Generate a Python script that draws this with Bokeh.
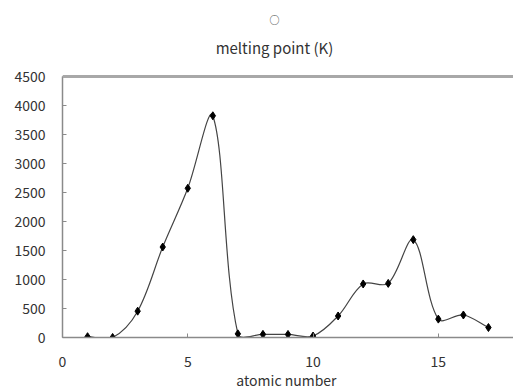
from bokeh.plotting import figure
from bokeh.models import Range1d, FixedTicker, Label, Span
from bokeh.embed import file_html
from bokeh.resources import INLINE

# ---- data ----
atomic_number = [1, 2, 3, 4, 5, 6, 7, 8, 9, 10, 11, 12, 13, 14, 15, 16, 17]
melting_point = [14, 1, 454, 1560, 2573, 3823, 63, 54, 53, 25, 371, 923, 933, 1687, 317, 388, 172]
x_ticks = [0, 5, 10, 15]
y_ticks = [0, 500, 1000, 1500, 2000, 2500, 3000, 3500, 4000, 4500]
y_max = 4500
title_mark = "○"
title_text = "melting point (K)"
x_label = "atomic  number"

FONT = "Noto Sans CJK JP"
TXT = "#333333"
AX = "#8a8a8a"

W, H = 513, 392
BL, BB = 62, 55
TOP_GAP = 76            # px between figure top and the 4500 line
X0, X1 = 0, 18
FW = W - BL
FH = H - BB
Y0 = 0
Y1 = y_max * FH / (FH - TOP_GAP)

p = figure(width=W, height=H, output_backend="svg", toolbar_location=None,
           x_range=Range1d(X0, X1), y_range=Range1d(Y0, Y1),
           min_border_left=BL, min_border_right=0, min_border_top=0, min_border_bottom=BB,
           background_fill_color="white", border_fill_color="white")
p.outline_line_color = None
p.grid.visible = False

for ax in (p.xaxis[0], p.yaxis[0]):
    ax.axis_line_color = AX
    ax.axis_line_width = 1.5
    ax.major_tick_line_color = AX
    ax.major_tick_in = 4
    ax.major_tick_out = 0
    ax.minor_tick_line_color = None
    ax.major_label_text_font = FONT
    ax.major_label_text_font_size = "14px"
    ax.major_label_text_color = TXT
p.xaxis.ticker = FixedTicker(ticks=x_ticks)
p.yaxis.ticker = FixedTicker(ticks=y_ticks)
p.yaxis.bounds = (0, y_max)
p.xaxis.major_label_standoff = 18
p.yaxis.major_label_standoff = 17
p.xaxis.axis_label = x_label
p.xaxis.axis_label_text_font = FONT
p.xaxis.axis_label_text_font_size = "14px"
p.xaxis.axis_label_text_font_style = "normal"
p.xaxis.axis_label_text_color = TXT
p.xaxis.axis_label_standoff = 0

p.add_layout(Span(location=y_max, dimension="width", line_color="#a8a8a8", line_width=3))

# smooth (Excel-like) curve: cubic Bezier segments, chord-length scaled tangents in pixel space
sx = FW / (X1 - X0)
sy = FH / (Y1 - Y0)
n = len(atomic_number)
px = [x * sx for x in atomic_number]
py = [y * sy for y in melting_point]

def dist(i, j):
    return ((px[i] - px[j]) ** 2 + (py[i] - py[j]) ** 2) ** 0.5

x0s, y0s, x1s, y1s, cx0s, cy0s, cx1s, cy1s = [], [], [], [], [], [], [], []
for i in range(n - 1):
    a = max(i - 1, 0)
    b = min(i + 2, n - 1)
    d = dist(i, i + 1)
    ta = (px[i + 1] - px[a], py[i + 1] - py[a])
    la = dist(a, i) + d
    f1 = d / la / 3 if la > 0 else 0
    tb = (px[b] - px[i], py[b] - py[i])
    lb = d + dist(i + 1, b)
    f2 = d / lb / 3 if lb > 0 else 0
    x0s.append(atomic_number[i]); y0s.append(melting_point[i])
    x1s.append(atomic_number[i + 1]); y1s.append(melting_point[i + 1])
    cx0s.append((px[i] + ta[0] * f1) / sx); cy0s.append((py[i] + ta[1] * f1) / sy)
    cx1s.append((px[i + 1] - tb[0] * f2) / sx); cy1s.append((py[i + 1] - tb[1] * f2) / sy)

p.bezier(x0=x0s, y0=y0s, x1=x1s, y1=y1s, cx0=cx0s, cy0=cy0s, cx1=cx1s, cy1=cy1s,
         line_color="#444444", line_width=1.2)
p.scatter(atomic_number, melting_point, marker="diamond", size=8,
          fill_color="black", line_color="black")

# titles, placed in the space above the 4500 line (pixel offsets from the figure top)
title_x = X0 + 212 / sx
p.add_layout(Label(x=title_x, y=Y1 - 19 / sy, text=title_mark, text_align="center",
                   text_baseline="middle", text_font=FONT, text_font_size="10px",
                   text_color=TXT))
p.add_layout(Label(x=title_x, y=Y1 - 47 / sy, text=title_text, text_align="center",
                   text_baseline="middle", text_font=FONT, text_font_size="15px",
                   text_color=TXT))

open("out.html", "w").write(file_html(p, INLINE))
